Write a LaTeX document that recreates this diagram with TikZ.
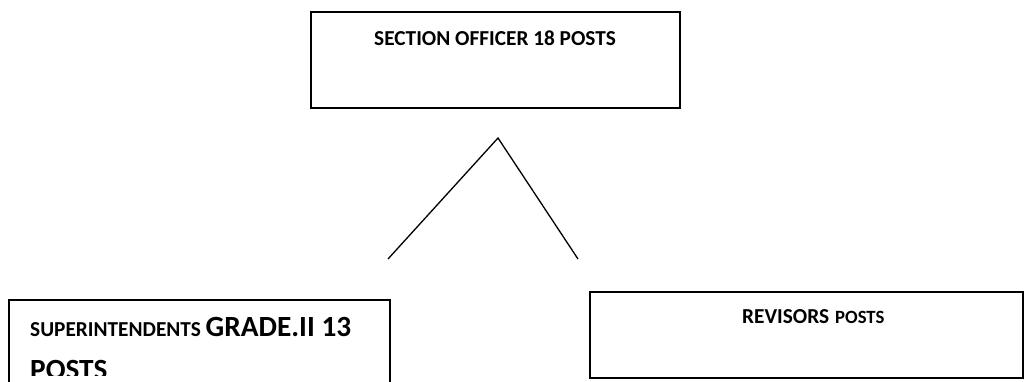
\documentclass[tikz,border=0pt]{standalone}
\usepackage{fontspec}
\setmainfont{Carlito}
\begin{document}
\begin{tikzpicture}[x=1pt,y=-1pt,
  post/.style={draw=black, line width=1.6pt, rectangle, inner sep=0pt},
  link/.style={draw=black, line width=1.3pt},
  lbl/.style={inner sep=0pt, font=\bfseries}]
\useasboundingbox (0,0) rectangle (1024,381);
\clip (0,0) rectangle (1024,381);

% boxes
\node[post, minimum width=369pt, minimum height=96pt] (so) at (495.5,60) {};
\node[post, minimum width=381pt, minimum height=120pt] (sup) at (199.5,360) {};
\node[post, minimum width=433pt, minimum height=86pt] (rev) at (806.5,335) {};

% labels
\node[lbl, anchor=base] (solbl) at (495,45)
  {\fontsize{21.3}{26}\selectfont SECTION OFFICER 18 POSTS};
\node[lbl, anchor=base west] (suplbl) at (30,336)
  {\fontsize{21.3}{26}\selectfont SUPERINTENDENTS \fontsize{29.3}{36}\selectfont GRADE.II 13};
% second line runs past the text frame and is cut by it
\begin{scope}
  \clip (0,0) rectangle (1024,375);
  \node[lbl, anchor=base west] (suplbl2) at (30,379)
    {\fontsize{29.3}{36}\selectfont POSTS};
\end{scope}
\node[lbl, anchor=base west] (revlbl) at (742,323)
  {\fontsize{21.3}{26}\selectfont REVISORS\hspace{6pt}\fontsize{18.7}{22}\selectfont POSTS};

% branching lines
\coordinate (apex) at (498,138);
\coordinate (lend) at (388,259);
\coordinate (rend) at (578,259);
\draw[link] (lend) -- (apex) -- (rend);
\end{tikzpicture}
\end{document}
